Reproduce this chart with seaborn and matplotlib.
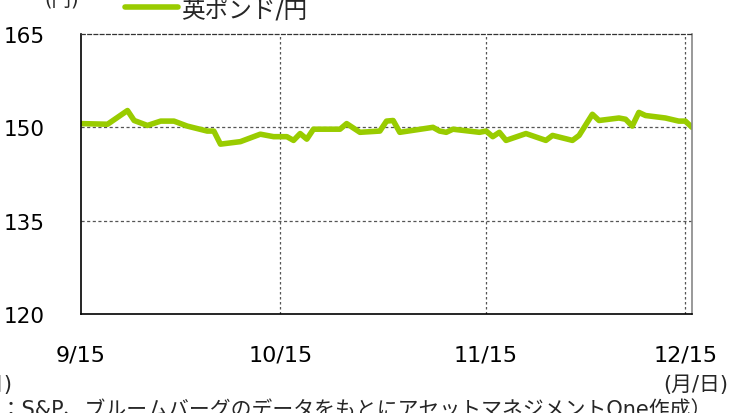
import matplotlib
matplotlib.use("Agg")
import numpy as np
import pandas as pd
import matplotlib.pyplot as plt
import seaborn as sns

# -- Data ----------------------------------------------------------------------
dates = ["2023-09-15", "2023-09-19", "2023-09-22", "2023-09-23", "2023-09-25",
         "2023-09-27", "2023-09-29", "2023-10-01", "2023-10-04", "2023-10-05",
         "2023-10-06", "2023-10-09", "2023-10-12", "2023-10-14", "2023-10-16",
         "2023-10-17", "2023-10-18", "2023-10-19", "2023-10-20", "2023-10-24",
         "2023-10-25", "2023-10-27", "2023-10-30", "2023-10-31", "2023-11-01",
         "2023-11-02", "2023-11-07", "2023-11-08", "2023-11-09", "2023-11-10",
         "2023-11-14", "2023-11-15", "2023-11-16", "2023-11-17", "2023-11-18",
         "2023-11-21", "2023-11-24", "2023-11-25", "2023-11-28", "2023-11-29",
         "2023-12-01", "2023-12-02", "2023-12-05", "2023-12-06", "2023-12-07",
         "2023-12-08", "2023-12-09", "2023-12-12", "2023-12-14", "2023-12-15",
         "2023-12-16"]
gbpjpy = [150.6, 150.5, 152.7, 151.1, 150.3,
          151.0, 151.0, 150.2, 149.4, 149.4,
          147.3, 147.7, 148.9, 148.5, 148.5,
          147.9, 149.0, 148.1, 149.7, 149.7,
          150.6, 149.2, 149.4, 151.0, 151.1,
          149.2, 150.0, 149.4, 149.2, 149.7,
          149.2, 149.4, 148.5, 149.2, 147.9,
          149.0, 147.9, 148.7, 147.9, 148.7,
          152.1, 151.1, 151.5, 151.3, 150.2,
          152.4, 151.9, 151.5, 151.0, 151.0,
          150.0]

y_ticks = [120, 135, 150, 165]
x_ticks = ["2023-09-15", "2023-10-15", "2023-11-15", "2023-12-15"]
x_labels = ["9/15", "10/15", "11/15", "12/15"]
series_name = "英ポンド/円"

df = pd.DataFrame({"date": pd.to_datetime(dates), "value": gbpjpy})

# -- Style ---------------------------------------------------------------------
sns.set_style("white")
# DejaVu (Verdana-like) for latin/digits, Noto CJK for the Japanese glyphs
plt.rcParams["font.family"] = ["DejaVu Sans", "Noto Sans CJK JP"]

GREEN = "#99CC00"

fig = plt.figure(figsize=(7.31, 4.14), dpi=100)
ax = fig.add_axes([81 / 731, 1 - 315 / 414, (692 - 81) / 731, (315 - 35) / 414])

sns.lineplot(data=df, x="date", y="value", ax=ax, color=GREEN, lw=4,
             legend=False, solid_joinstyle="round")

ax.set_ylim(120, 165)
ax.set_xlim(pd.Timestamp("2023-09-15"), pd.Timestamp("2023-12-16"))
ax.set_yticks(y_ticks)
xt = pd.to_datetime(x_ticks)
ax.set_xticks(xt)
ax.set_xticklabels(x_labels)
ax.set_xlabel("")
ax.set_ylabel("")

# grid lines
for v in [135, 150]:
    ax.axhline(v, color="#555555", lw=0.9, ls=(0, (2.5, 2)), zorder=1)
for d in xt[1:]:
    ax.axvline(d, color="#555555", lw=0.9, ls=(0, (2, 2)), zorder=1)

# spines
ax.spines["left"].set_color("black")
ax.spines["bottom"].set_color("black")
ax.spines["left"].set_linewidth(1.2)
ax.spines["bottom"].set_linewidth(1.2)
ax.spines["top"].set_color("#333333")
ax.spines["top"].set_linestyle((0, (3, 2)))
ax.spines["top"].set_linewidth(0.9)
ax.spines["right"].set_color("#888888")
ax.spines["right"].set_linewidth(1.2)

ax.tick_params(axis="y", length=0, pad=26, labelsize=15.5, colors="black")
ax.tick_params(axis="x", length=0, pad=22, labelsize=16, colors="black")

# legend-like header
fig.add_artist(plt.Line2D([125 / 731, 178 / 731], [1 - 8 / 414, 1 - 8 / 414],
                          color=GREEN, lw=4, solid_capstyle="round"))
fig.text(181 / 731, 1 - 11 / 414, series_name, fontsize=17, va="center", ha="left")
fig.text(62 / 731, 1 - 0 / 414, "(円)", fontsize=14, va="center", ha="center")

# axis unit labels
fig.text(728 / 731, 1 - 385 / 414, "(月/日)", fontsize=15, va="center", ha="right")
fig.text(12 / 731, 1 - 385 / 414, "(月/日)", fontsize=15, va="center", ha="right")

# source note (partially clipped like the reference)
fig.text(712 / 731, 1 - 410 / 414,
         "（出所：S&P、ブルームバーグのデータをもとにアセットマネジメントOne作成）",
         fontsize=15, va="center", ha="right")

fig.savefig("out.png", dpi=100)
